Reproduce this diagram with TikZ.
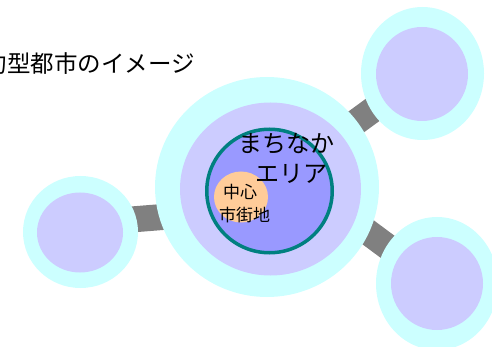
\documentclass[tikz,border=0pt]{standalone}
\usepackage{fontspec}
\newfontfamily\jp{Noto Sans CJK JP}
\usetikzlibrary{shapes.geometric}
\definecolor{cyanfill}{HTML}{CCFFFF}
\definecolor{lavfill}{HTML}{CCCCFF}
\definecolor{bluefill}{HTML}{9999FF}
\definecolor{tealline}{HTML}{008080}
\definecolor{orangefill}{HTML}{FFCC99}
\definecolor{bandgray}{HTML}{808080}
\tikzset{
  disc/.style={ellipse, inner sep=0pt, draw=none},
  band/.style={draw=bandgray, line width=26pt},
  label/.style={inner sep=0pt, text=black, font=\jp},
}
\begin{document}
\begin{tikzpicture}[x=1pt,y=-1pt]
\useasboundingbox (0,0) rectangle (492,347);
\clip (0,0) rectangle (492,347);
% band anchors
\coordinate (cc) at (267,187);
\coordinate (tr) at (422.5,73.5);
\coordinate (br) at (437,283.5);
\coordinate (lb1) at (100,222);
\coordinate (lb2) at (200,214);
\coordinate (rb1) at (330,204);
% connectors (behind)
\draw[band] (lb1) -- (lb2);
\draw[band] (cc) -- (tr);
\draw[band] (rb1) -- (br);
% central
\node[disc, fill=cyanfill, minimum width=224pt, minimum height=220pt] (central) at (cc) {};
\node[disc, fill=lavfill, minimum width=181pt, minimum height=173pt] (centralin) at (270.5,189) {};
\node[disc, fill=bluefill, draw=tealline, line width=3.5pt, minimum width=125.5pt, minimum height=123.5pt] (machi) at (269.5,191) {};
\node[disc, fill=orangefill, minimum width=54pt, minimum height=51pt] (chushin) at (241,197) {};
% left
\node[disc, fill=cyanfill, minimum width=115pt, minimum height=112pt] (left) at (80.5,232) {};
\node[disc, fill=lavfill, minimum width=86pt, minimum height=80pt] (leftin) at (80,232.5) {};
% top right
\node[disc, fill=cyanfill, minimum width=123pt, minimum height=133pt] (topright) at (tr) {};
\node[disc, fill=lavfill, minimum width=92pt, minimum height=94pt] (toprightin) at (422,74) {};
% bottom right
\node[disc, fill=cyanfill, minimum width=122pt, minimum height=133pt] (botright) at (br) {};
\node[disc, fill=lavfill, minimum width=92pt, minimum height=93pt] (botrightin) at (437,283.5) {};
% texts
\node[label, anchor=east, font=\jp\fontsize{23.5}{28}\selectfont] (title) at (195,63.3) {集約型都市のイメージ};
\node[label, font=\jp\fontsize{24}{29}\selectfont] (t1) at (286,143.3) {まちなか};
\node[label, font=\jp\fontsize{24}{29}\selectfont] (t2) at (291,174) {エリア};
\node[label, font=\jp\fontsize{17}{21}\selectfont] (t3) at (240,192.5) {中心};
\node[label, font=\jp\fontsize{17}{21}\selectfont] (t4) at (244.5,215.3) {市街地};
\end{tikzpicture}
\end{document}
